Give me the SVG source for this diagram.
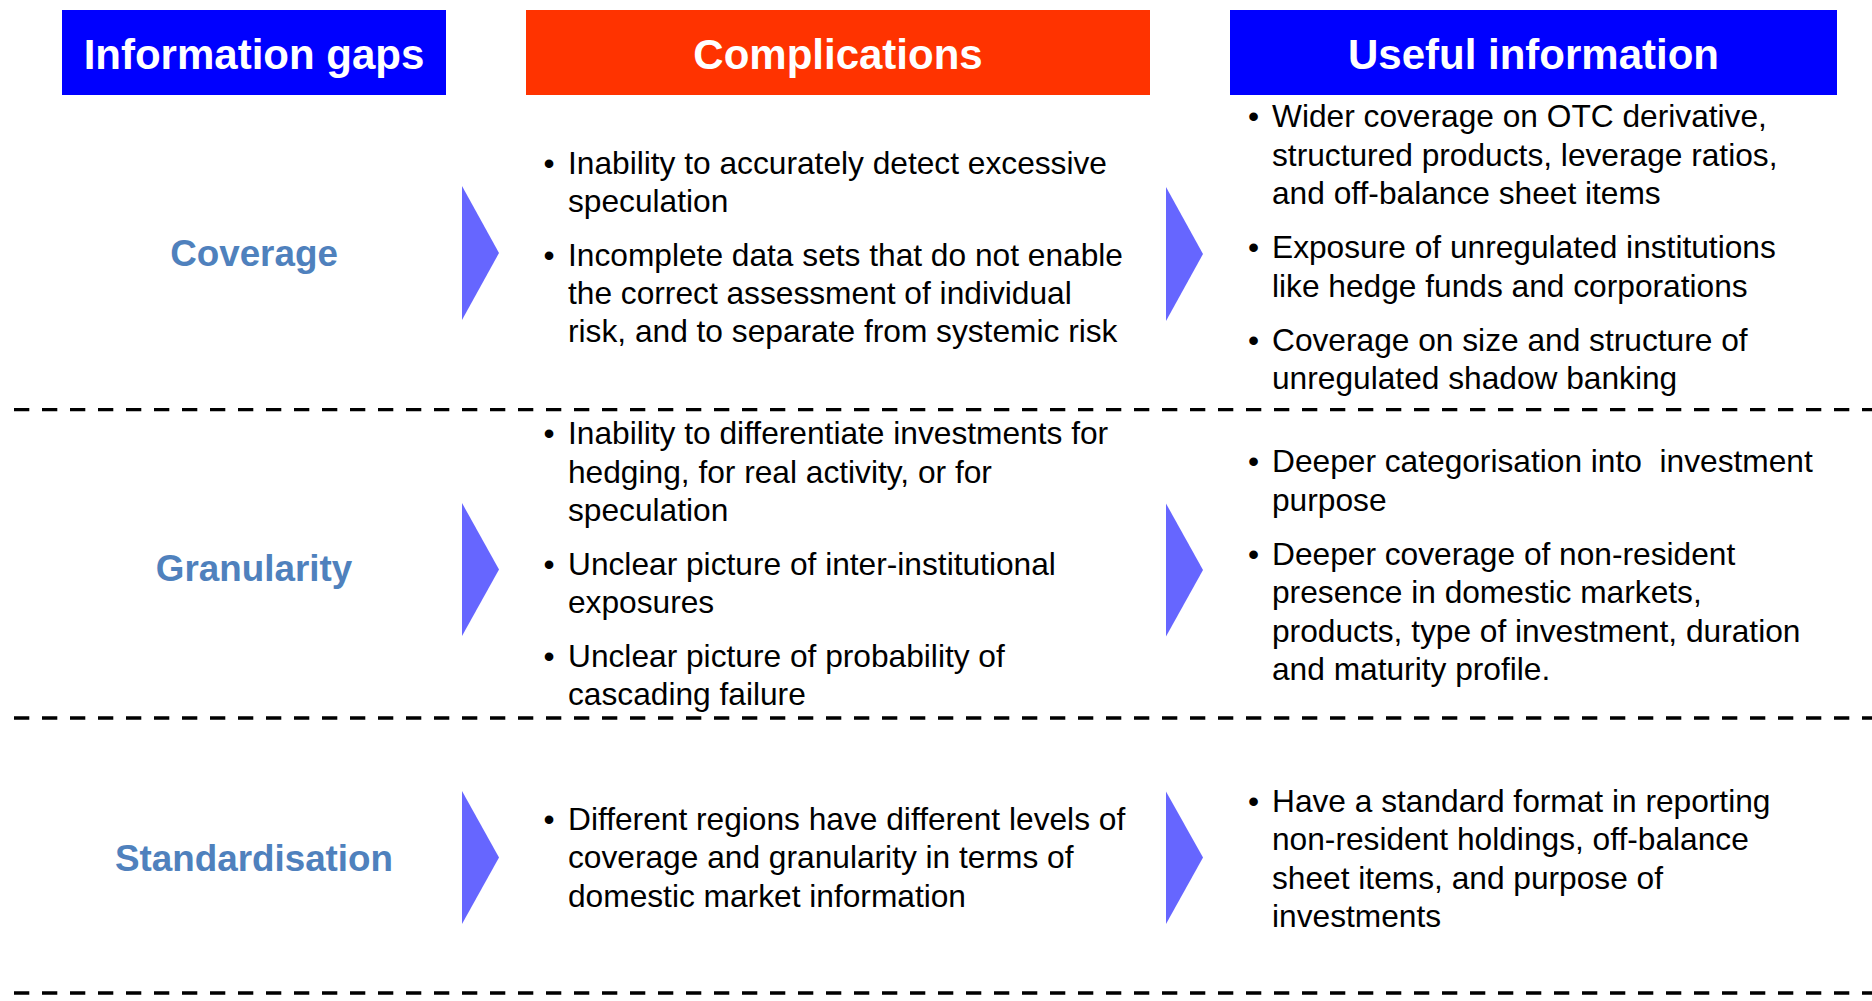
<svg xmlns="http://www.w3.org/2000/svg" width="1872" height="1001" viewBox="0 0 1872 1001">
<style>
.hdr{font-family:"Liberation Sans",Arial,sans-serif;font-weight:bold;font-size:42px;fill:#ffffff;text-anchor:middle}
.lbl{font-family:"Liberation Sans",Arial,sans-serif;font-weight:bold;font-size:36.8px;fill:#4F81BD;text-anchor:middle}
.txt{font-family:"Liberation Sans",Arial,sans-serif;font-size:31.7px;fill:#000000}
.arrow{fill:#6666FF}
.dash{stroke:#000000;stroke-width:3.3;stroke-dasharray:15.3 12.7;fill:none}
</style>
<rect width="1872" height="1001" fill="#ffffff"/>
<g id="headers">
  <g id="hdr-gaps"><rect x="62" y="10" width="384" height="85" fill="#0000FF"/><text class="hdr" x="254" y="69.3">Information gaps</text></g>
  <g id="hdr-complications"><rect x="526" y="10" width="624" height="85" fill="#FF3300"/><text class="hdr" x="838" y="69.3">Complications</text></g>
  <g id="hdr-useful"><rect x="1230" y="10" width="607" height="85" fill="#0000FF"/><text class="hdr" x="1533.5" y="69.3">Useful information</text></g>
</g>
<g id="separators">
  <line class="dash" x1="14" y1="409.7" x2="1872" y2="409.7"/>
  <line class="dash" x1="14" y1="718" x2="1872" y2="718"/>
  <line class="dash" x1="14" y1="993" x2="1872" y2="993"/>
</g>
<g id="connectors">
  <polygon class="arrow" points="462,186 499,253 462,320"/>
  <polygon class="arrow" points="1166,187 1203,254 1166,321"/>
  <polygon class="arrow" points="462,503 499,569.5 462,636"/>
  <polygon class="arrow" points="1166,503.5 1203,570 1166,636.5"/>
  <polygon class="arrow" points="462,791 499,857.5 462,924"/>
  <polygon class="arrow" points="1166,791.5 1203,857.5 1166,924"/>
</g>
<g id="row-coverage">
  <text class="lbl" x="254" y="266">Coverage</text>
  <g id="coverage-complications">
    <text class="txt"><tspan x="543.5" y="174">•</tspan><tspan x="568" y="174">Inability to accurately detect excessive</tspan><tspan x="568" y="212.3">speculation</tspan></text>
    <text class="txt"><tspan x="543.5" y="265.7">•</tspan><tspan x="568" y="265.7">Incomplete data sets that do not enable</tspan><tspan x="568" y="304">the correct assessment of individual</tspan><tspan x="568" y="342.3">risk, and to separate from systemic risk</tspan></text>
  </g>
  <g id="coverage-useful">
    <text class="txt"><tspan x="1248" y="127.3">•</tspan><tspan x="1272" y="127.3">Wider coverage on OTC derivative,</tspan><tspan x="1272" y="165.7">structured products, leverage ratios,</tspan><tspan x="1272" y="204">and off-balance sheet items</tspan></text>
    <text class="txt"><tspan x="1248" y="258.3">•</tspan><tspan x="1272" y="258.3">Exposure of unregulated institutions</tspan><tspan x="1272" y="296.7">like hedge funds and corporations</tspan></text>
    <text class="txt"><tspan x="1248" y="351">•</tspan><tspan x="1272" y="351">Coverage on size and structure of</tspan><tspan x="1272" y="389.3">unregulated shadow banking</tspan></text>
  </g>
</g>
<g id="row-granularity">
  <text class="lbl" x="254" y="581">Granularity</text>
  <g id="granularity-complications">
    <text class="txt"><tspan x="543.5" y="444">•</tspan><tspan x="568" y="444">Inability to differentiate investments for</tspan><tspan x="568" y="482.5">hedging, for real activity, or for</tspan><tspan x="568" y="521">speculation</tspan></text>
    <text class="txt"><tspan x="543.5" y="574.5">•</tspan><tspan x="568" y="574.5">Unclear picture of inter-institutional</tspan><tspan x="568" y="613">exposures</tspan></text>
    <text class="txt"><tspan x="543.5" y="666.5">•</tspan><tspan x="568" y="666.5">Unclear picture of probability of</tspan><tspan x="568" y="705">cascading failure</tspan></text>
  </g>
  <g id="granularity-useful">
    <text class="txt" xml:space="preserve"><tspan x="1248" y="472">•</tspan><tspan x="1272" y="472">Deeper categorisation into  investment</tspan><tspan x="1272" y="510.5">purpose</tspan></text>
    <text class="txt"><tspan x="1248" y="564.5">•</tspan><tspan x="1272" y="564.5">Deeper coverage of non-resident</tspan><tspan x="1272" y="603">presence in domestic markets,</tspan><tspan x="1272" y="641.5">products, type of investment, duration</tspan><tspan x="1272" y="680">and maturity profile.</tspan></text>
  </g>
</g>
<g id="row-standardisation">
  <text class="lbl" x="254" y="871">Standardisation</text>
  <g id="standardisation-complications">
    <text class="txt"><tspan x="543.5" y="829.5">•</tspan><tspan x="568" y="829.5">Different regions have different levels of</tspan><tspan x="568" y="868">coverage and granularity in terms of</tspan><tspan x="568" y="906.5">domestic market information</tspan></text>
  </g>
  <g id="standardisation-useful">
    <text class="txt"><tspan x="1248" y="811.5">•</tspan><tspan x="1272" y="811.5">Have a standard format in reporting</tspan><tspan x="1272" y="850">non-resident holdings, off-balance</tspan><tspan x="1272" y="888.5">sheet items, and purpose of</tspan><tspan x="1272" y="927">investments</tspan></text>
  </g>
</g>
</svg>
